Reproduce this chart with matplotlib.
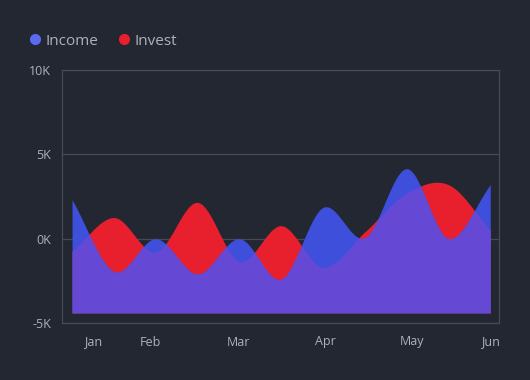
import numpy as np
import matplotlib
matplotlib.use('Agg')
import matplotlib.pyplot as plt
from matplotlib.lines import Line2D

# ---------------- DATA ---------------- #
income = [2.3, -1.95, 0.0, -2.1, 0.0, -2.4, 1.85, 0.05, 4.15, 0.0, 3.2]
invest = [-0.75, 1.25, -0.8, 2.15, -1.35, 0.77, -1.7, 0.4, 2.7, 3.2, 0.5]
month_labels = ['Jan', 'Feb', 'Mar', 'Apr', 'May', 'Jun']
month_pos = [0.5, 1.87, 3.97, 6.05, 8.13, 10.0]
y_ticks = [-5, 0, 5, 10]
y_labels = ['-5K', '0K', '5K', '10K']

BG = '#232731'
GRID = '#454a55'
TXT = '#aeb1b7'
BLUE = '#3e4fdb'
RED = '#e8202e'
PURPLE = '#6549d5'
BASE = -4.4

plt.rcParams['font.family'] = ['Open Sans', 'DejaVu Sans']


def smooth(vals, n=40):
    # cubic hermite (catmull-rom) through the points
    y = np.asarray(vals, dtype=float)
    x = np.arange(len(y))
    m = np.zeros_like(y)
    m[1:-1] = (y[2:] - y[:-2]) / 2
    m[0] = y[1] - y[0]
    m[-1] = y[-1] - y[-2]
    xs, ys = [], []
    for i in range(len(y) - 1):
        t = np.linspace(0, 1, n, endpoint=False)
        h00 = 2 * t**3 - 3 * t**2 + 1
        h10 = t**3 - 2 * t**2 + t
        h01 = -2 * t**3 + 3 * t**2
        h11 = t**3 - t**2
        xs.append(x[i] + t)
        ys.append(h00 * y[i] + h10 * m[i] + h01 * y[i + 1] + h11 * m[i + 1])
    xs.append([x[-1]])
    ys.append([y[-1]])
    return np.concatenate(xs), np.concatenate(ys)


fig = plt.figure(figsize=(5.3, 3.8), dpi=100, facecolor=BG)
ax = fig.add_axes([0.117, 0.15, 0.825, 0.666])
ax.set_facecolor(BG)

xi, yi = smooth(income)
xv, yv = smooth(invest)

ax.fill_between(xv, BASE, yv, color=RED, lw=0, zorder=2)
ax.fill_between(xi, BASE, yi, color=BLUE, lw=0, zorder=3)
ax.fill_between(xi, BASE, np.minimum(yi, yv), color=PURPLE, lw=0, zorder=4)

ax.set_xlim(-0.24, 10.215)
ax.set_ylim(-5, 10)
ax.set_yticks(y_ticks)
ax.set_yticklabels(y_labels)
ax.set_xticks(month_pos)
ax.set_xticklabels(month_labels)
ax.tick_params(length=0, colors=TXT, labelsize=9)
ax.tick_params(axis='x', pad=9)
ax.tick_params(axis='y', pad=8)
for s in ax.spines.values():
    s.set_color(GRID)
    s.set_linewidth(0.9)
ax.grid(axis='y', color=GRID, lw=0.9, zorder=1)
ax.set_axisbelow(True)

handles = [Line2D([], [], ls='', marker='o', ms=8, mfc='#5a6af2', mec='none'),
           Line2D([], [], ls='', marker='o', ms=8, mfc=RED, mec='none')]
fig.legend(handles, ['Income', 'Invest'], loc='upper left', bbox_to_anchor=(0.022, 0.948),
           ncol=2, frameon=False, labelcolor=TXT, fontsize=11, handletextpad=0.1,
           columnspacing=1.1, handlelength=1.2)

fig.savefig('out.png', dpi=100, facecolor=BG)
